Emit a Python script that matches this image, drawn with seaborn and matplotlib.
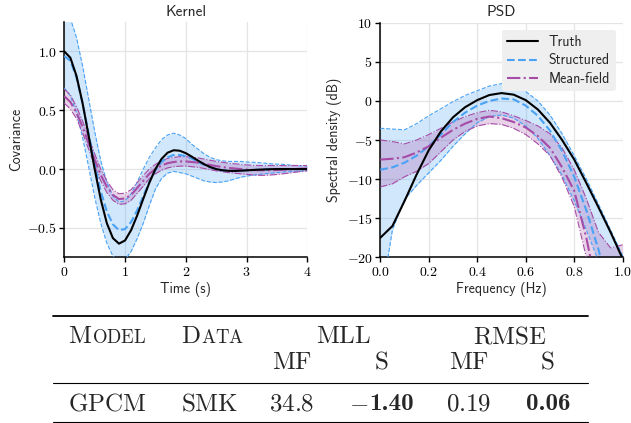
import numpy as np
import pandas as pd
import matplotlib
matplotlib.use("Agg")
import matplotlib.pyplot as plt
import seaborn as sns
from matplotlib.ticker import FuncFormatter
from matplotlib.lines import Line2D

# ---------------- data ----------------
time_s = [0.0, 0.1, 0.2, 0.3, 0.4, 0.5, 0.6, 0.7, 0.8, 0.9,
          1.0, 1.1, 1.2, 1.3, 1.4, 1.5, 1.6, 1.7, 1.8, 1.9,
          2.0, 2.1, 2.2, 2.3, 2.4, 2.5, 2.6, 2.7, 2.8, 2.9,
          3.0, 3.1, 3.2, 3.3, 3.4, 3.5, 3.6, 3.7, 3.8, 3.9, 4.0]

kernel_truth = [1.000, 0.946, 0.793, 0.562, 0.285, 0.000, -0.258, -0.460, -0.587, -0.634,
                -0.607, -0.519, -0.394, -0.253, -0.116, 0.000, 0.086, 0.139, 0.160, 0.156,
                0.135, 0.105, 0.072, 0.042, 0.017, 0.000, -0.010, -0.015, -0.016, -0.014,
                -0.011, -0.008, -0.005, -0.003, -0.001, 0.000, 0.000, 0.000, 0.000, 0.000, 0.000]

kernel_struct = [0.96, 0.92, 0.78, 0.56, 0.30, 0.04, -0.19, -0.36, -0.47, -0.52,
                 -0.51, -0.45, -0.35, -0.23, -0.11, -0.01, 0.06, 0.10, 0.12, 0.12,
                 0.11, 0.09, 0.06, 0.035, 0.015, 0.0, -0.01, -0.015, -0.015, -0.013,
                 -0.01, -0.008, -0.006, -0.004, -0.003, -0.002, -0.001, 0.0, 0.0, 0.0, 0.0]
kernel_struct_hi = [1.38, 1.28, 1.12, 0.88, 0.60, 0.32, 0.07, -0.11, -0.23, -0.28,
                    -0.27, -0.21, -0.11, 0.00, 0.10, 0.18, 0.25, 0.29, 0.305, 0.29,
                    0.26, 0.21, 0.17, 0.13, 0.10, 0.08, 0.07, 0.065, 0.065, 0.065,
                    0.06, 0.058, 0.055, 0.05, 0.045, 0.042, 0.04, 0.035, 0.03, 0.027, 0.025]
kernel_struct_lo = [0.69, 0.62, 0.48, 0.27, 0.02, -0.24, -0.46, -0.63, -0.74, -0.79,
                    -0.77, -0.70, -0.59, -0.46, -0.31, -0.17, -0.08, -0.035, -0.02, -0.03,
                    -0.04, -0.06, -0.08, -0.10, -0.11, -0.115, -0.11, -0.10, -0.085, -0.07,
                    -0.06, -0.052, -0.045, -0.04, -0.035, -0.03, -0.025, -0.022, -0.02, -0.017, -0.015]

kernel_mf = [0.62, 0.57, 0.48, 0.36, 0.22, 0.08, -0.05, -0.15, -0.22, -0.255,
             -0.25, -0.22, -0.16, -0.10, -0.04, 0.00, 0.03, 0.05, 0.06, 0.065,
             0.065, 0.06, 0.055, 0.045, 0.035, 0.025, 0.018, 0.01, 0.005, 0.0,
             -0.005, -0.008, -0.01, -0.01, -0.01, -0.008, -0.005, -0.002, 0.0, 0.003, 0.005]
kernel_mf_hi = [0.68, 0.63, 0.53, 0.41, 0.27, 0.13, 0.0, -0.10, -0.175, -0.21,
                -0.205, -0.175, -0.115, -0.055, 0.0, 0.04, 0.07, 0.09, 0.10, 0.105,
                0.105, 0.10, 0.095, 0.085, 0.075, 0.065, 0.058, 0.05, 0.045, 0.04,
                0.035, 0.032, 0.03, 0.03, 0.03, 0.03, 0.03, 0.03, 0.03, 0.03, 0.03]
kernel_mf_lo = [0.56, 0.51, 0.43, 0.31, 0.17, 0.03, -0.10, -0.20, -0.265, -0.30,
                -0.295, -0.265, -0.205, -0.145, -0.08, -0.04, -0.01, 0.01, 0.02, 0.025,
                0.025, 0.02, 0.015, 0.005, -0.005, -0.015, -0.022, -0.03, -0.035, -0.04,
                -0.045, -0.05, -0.053, -0.053, -0.05, -0.046, -0.04, -0.034, -0.027, -0.02, -0.015]

freq_hz = [0.0, 0.05, 0.1, 0.15, 0.2, 0.25, 0.3, 0.35, 0.4, 0.45, 0.5,
           0.55, 0.6, 0.65, 0.7, 0.75, 0.8, 0.85, 0.9, 0.95, 1.0]

psd_truth = [-17.5, -16.0, -12.8, -9.4, -6.3, -3.9, -2.1, -0.8, 0.1, 0.75, 1.0,
             0.8, 0.1, -1.1, -2.8, -5.0, -7.5, -10.5, -13.6, -16.8, -20.2]
psd_struct = [-8.8, -8.5, -7.9, -7.0, -5.8, -4.3, -2.7, -1.5, -0.6, 0.0, 0.3,
              0.2, -0.6, -1.9, -3.8, -6.4, -9.7, -14.0, -19.0, -25.0, -30.0]
psd_struct_hi = [-3.5, -3.6, -3.7, -2.9, -1.9, -1.0, -0.1, 0.7, 1.3, 1.9, 2.2,
                 2.2, 1.2, 0.0, -1.8, -4.2, -7.0, -10.0, -13.2, -16.5, -19.8]
psd_struct_lo = [-26.0, -16.5, -12.6, -10.8, -9.2, -7.6, -5.8, -4.2, -2.8, -2.0, -1.8,
                 -2.2, -3.2, -4.8, -7.0, -9.5, -12.8, -16.5, -20.5, -25.0, -30.0]
psd_mf = [-7.5, -7.4, -7.2, -6.6, -5.8, -4.7, -3.7, -2.9, -2.3, -2.0, -2.2,
          -2.7, -3.4, -4.5, -6.0, -8.5, -11.5, -17.5, -25.0, -32.0, -38.0]
psd_mf_hi = [-5.0, -5.2, -5.5, -5.0, -4.3, -3.5, -2.7, -2.0, -1.5, -1.2, -1.4,
             -1.9, -2.5, -3.2, -4.2, -6.0, -8.8, -12.5, -16.8, -18.8, -18.4]
psd_mf_lo = [-11.0, -10.6, -9.7, -9.0, -8.0, -6.5, -5.0, -3.9, -3.2, -2.9, -3.0,
             -3.5, -4.3, -5.5, -7.0, -9.8, -13.5, -20.0, -27.0, -34.0, -40.0]

series_names = ["Truth", "Structured", "Mean-field"]

table_header = ["Model", "Data", "MLL", "RMSE"]
table_sub = ["MF", "S", "MF", "S"]
table_row = ["GPCM", "SMK", "34.8", "-1.40", "0.19", "0.06"]

# ---------------- style ----------------
BLUE = "#4aa2f5"
PURPLE = "#a64ca6"

sns.set_theme(style="ticks")
plt.rcParams.update({
    "font.family": ["cmss10", "DejaVu Sans"],
    "mathtext.fontset": "cm",
    "axes.unicode_minus": False,
    "axes.formatter.use_mathtext": True,
    "axes.grid": True,
    "grid.color": "#e4e4e4",
    "grid.linewidth": 0.9,
    "axes.edgecolor": "black",
    "axes.linewidth": 1.1,
    "xtick.color": "black",
    "ytick.color": "black",
    "axes.facecolor": "white",
})

W, H = 631, 423
fig = plt.figure(figsize=(W / 100, H / 100), dpi=100)
ax1 = fig.add_axes([64.3 / W, 1 - 257.3 / H, (307.3 - 64.3) / W, (257.3 - 22.0) / H])
ax2 = fig.add_axes([380.3 / W, 1 - 257.3 / H, (622.7 - 380.3) / W, (257.3 - 22.7) / H])


def draw(ax, x, truth, s, s_hi, s_lo, m, m_hi, m_lo):
    ax.fill_between(x, s_lo, s_hi, color=BLUE, alpha=0.25, lw=0, zorder=1)
    ax.fill_between(x, m_lo, m_hi, color=PURPLE, alpha=0.25, lw=0, zorder=2)
    for edge in (s_hi, s_lo):
        sns.lineplot(x=x, y=edge, ax=ax, color=BLUE, lw=0.8, linestyle="--", zorder=3)
    for edge in (m_hi, m_lo):
        sns.lineplot(x=x, y=edge, ax=ax, color=PURPLE, lw=0.8, linestyle="-.", zorder=3)
    sns.lineplot(x=x, y=s, ax=ax, color=BLUE, lw=1.5, linestyle="--", zorder=4)
    sns.lineplot(x=x, y=m, ax=ax, color=PURPLE, lw=1.5, linestyle="-.", zorder=4)
    sns.lineplot(x=x, y=truth, ax=ax, color="black", lw=1.5, linestyle="-", zorder=5)


draw(ax1, time_s, kernel_truth, kernel_struct, kernel_struct_hi, kernel_struct_lo,
     kernel_mf, kernel_mf_hi, kernel_mf_lo)
draw(ax2, freq_hz, psd_truth, psd_struct, psd_struct_hi, psd_struct_lo,
     psd_mf, psd_mf_hi, psd_mf_lo)

ax1.set_xlim(0, 4)
ax1.set_ylim(-0.75, 1.25)
ax1.set_xticks([0, 1, 2, 3, 4])
ax1.set_yticks([-0.5, 0.0, 0.5, 1.0])
ax1.xaxis.set_major_formatter(FuncFormatter(lambda v, p: r"$%d$" % round(v)))
ax1.yaxis.set_major_formatter(FuncFormatter(lambda v, p: r"$%.1f$" % v))

ax2.set_xlim(0, 1)
ax2.set_ylim(-20, 10)
ax2.set_xticks([0.0, 0.2, 0.4, 0.6, 0.8, 1.0])
ax2.set_yticks([-20, -15, -10, -5, 0, 5, 10])
ax2.xaxis.set_major_formatter(FuncFormatter(lambda v, p: r"$%.1f$" % v))
ax2.yaxis.set_major_formatter(FuncFormatter(lambda v, p: r"$%d$" % round(v)))

for ax, title, xl, yl in ((ax1, "Kernel", "Time (s)", "Covariance"),
                          (ax2, "PSD", "Frequency (Hz)", "Spectral density (dB)")):
    sns.despine(ax=ax)
    ax.set_title(title, fontsize=11, pad=4.5)
    ax.set_xlabel(xl, fontsize=10, labelpad=2)
    ax.set_ylabel(yl, fontsize=10, labelpad=3)
    ax.tick_params(direction="out", length=3.5, width=1, labelsize=10, pad=2)
    ax.grid(True, zorder=0)
    ax.set_axisbelow(True)

handles = [Line2D([], [], color="black", lw=1.5, ls="-"),
           Line2D([], [], color=BLUE, lw=1.5, ls="--"),
           Line2D([], [], color=PURPLE, lw=1.5, ls="-.")]
ax2.legend(handles, series_names, loc="upper right", fontsize=10, frameon=True,
           facecolor="#efefef", edgecolor="none", framealpha=1.0,
           borderaxespad=0.5, handlelength=2.2, labelspacing=0.3)

# ---------------- table ----------------
renderer = fig.canvas.get_renderer()


def ftxt(x, y, s, size=18, ha="left", family=None):
    kw = {}
    if family:
        kw["family"] = family
    return fig.text(x / W, 1 - y / H, s, fontsize=size, ha=ha, va="baseline", **kw)


def smallcaps(x, y, word, big=18, small=13.5):
    t1 = ftxt(x, y, r"$\mathrm{%s}$" % word[0].upper(), big)
    bb = t1.get_window_extent(renderer)
    ftxt(bb.x1 + 0.3, y, r"$\mathrm{%s}$" % word[1:].upper(), small)


def centered_parts(xc, y, parts):
    """parts: list of (text, family) drawn side by side, centred on xc."""
    objs = [ftxt(0, y, s, family=fam) for s, fam in parts]
    widths = [o.get_window_extent(renderer).width for o in objs]
    x = xc - sum(widths) / 2
    for o, w in zip(objs, widths):
        o.set_x(x / W)
        x += w


def rule(y, lw):
    fig.add_artist(Line2D([52.7 / W, 587.6 / W], [1 - y / H, 1 - y / H],
                          color="black", lw=lw, transform=fig.transFigure))


rule(315.7, 1.3)
rule(382.7, 0.8)
rule(422.3, 0.8)

y_h, y_s, y_r = 343.3, 368.5, 410.0
smallcaps(68, y_h, table_header[0])
smallcaps(181, y_h, table_header[1])
ftxt(343.5, y_h, r"$\mathrm{%s}$" % table_header[2], ha="center")
ftxt(509.3, y_h, r"$\mathrm{%s}$" % table_header[3], ha="center")

for xc, s in zip([291.7, 380.8, 469.2, 547.0], table_sub):
    ftxt(xc, y_s, r"$\mathrm{%s}$" % s, ha="center")

ftxt(68, y_r, r"$\mathrm{%s}$" % table_row[0])
ftxt(181, y_r, r"$\mathrm{%s}$" % table_row[1])
ftxt(292.0, y_r, r"$%s$" % table_row[2], ha="center")
centered_parts(381.4, y_r, [(r"$-$", None), (table_row[3].lstrip("-"), "cmb10")])
ftxt(468.4, y_r, r"$%s$" % table_row[4], ha="center")
ftxt(548.0, y_r, table_row[5], ha="center", family="cmb10")

fig.savefig("out.png", dpi=100)
